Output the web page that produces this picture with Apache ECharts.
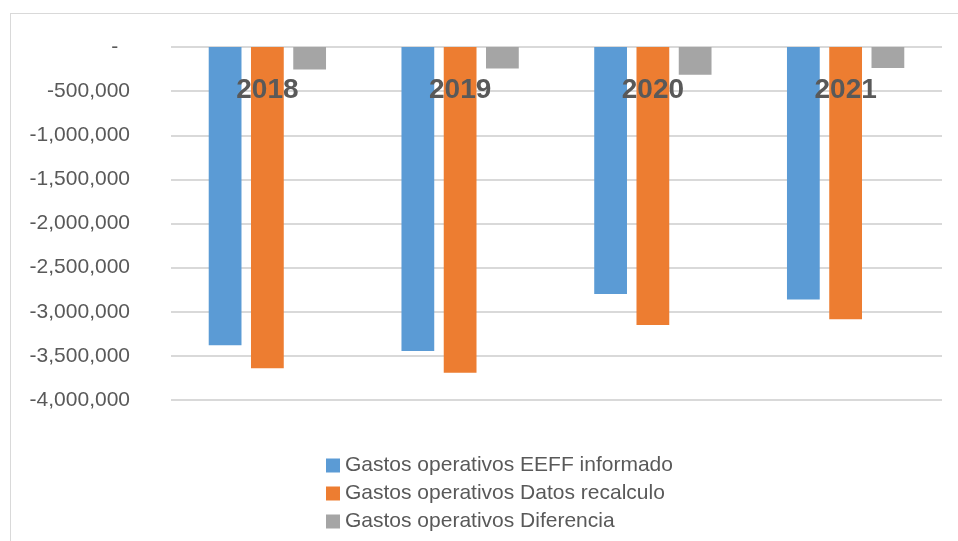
<!DOCTYPE html>
<html>
<head>
<meta charset="utf-8">
<script src="https://cdn.jsdelivr.net/npm/echarts@6/dist/echarts.min.js"></script>
<style>
  html, body { margin: 0; padding: 0; background: #fff; }
  #frame {
    position: absolute; left: 10px; top: 13px; width: 960px; height: 560px;
    border: 1px solid #d9d9d9; box-sizing: border-box;
  }
  #chart { position: absolute; left: 0; top: 0; width: 958px; height: 541px; }
</style>
</head>
<body>
<div id="frame"></div>
<div id="chart"></div>
<script>
const years = ['2018', '2019', '2020', '2021']
const informado = [-3380000, -3445000, -2800000, -2860000]
const recalculo = [-3640000, -3690000, -3150000, -3085000]
const diferencia = [-255000, -245000, -315000, -238000]

const seriesNames = [
  'Gastos operativos EEFF informado',
  'Gastos operativos Datos recalculo',
  'Gastos operativos Diferencia'
]
const colors = ['#5b9bd5', '#ed7d31', '#a5a5a5']

const chart = echarts.init(document.getElementById('chart'))

// accounting style: zero shows as a dash
const fmt = v => v === 0 ? '-  ' : (v < 0 ? '-' : '') + Math.abs(v).toString().replace(/\B(?=(\d{3})+(?!\d))/g, ',')

const option = {
  animation: false,
  color: colors,
  grid: {
    left: 171,
    right: 16,
    top: 47,
    bottom: 141
  },
  legend: {
    orient: 'vertical',
    left: 321,
    top: 450,
    itemWidth: 14,
    itemHeight: 14,
    itemGap: 7,
    icon: 'rect',
    textStyle: {
      color: '#595959',
      fontSize: 21,
      fontFamily: 'Liberation Sans'
    },
    data: seriesNames
  },
  xAxis: {
    type: 'category',
    position: 'top',
    data: years,
    z: 10,
    axisLine: { show: false },
    axisTick: { show: false },
    axisLabel: {
      inside: true,
      margin: 29,
      color: '#595959',
      fontSize: 28,
      fontWeight: 'bold',
      fontFamily: 'Liberation Sans'
    }
  },
  yAxis: {
    type: 'value',
    min: -4000000,
    max: 0,
    interval: 500000,
    axisLine: { show: false },
    axisTick: { show: false },
    axisLabel: {
      margin: 41,
      color: '#595959',
      fontSize: 21,
      fontFamily: 'Liberation Sans',
      formatter: fmt
    },
    splitLine: {
      lineStyle: { color: '#d9d9d9', width: 2 }
    }
  },
  series: [
    { name: seriesNames[0], type: 'bar', data: informado, barWidth: '17%', barGap: '29%' },
    { name: seriesNames[1], type: 'bar', data: recalculo, barWidth: '17%', barGap: '29%' },
    { name: seriesNames[2], type: 'bar', data: diferencia, barWidth: '17%', barGap: '29%' }
  ]
}

chart.setOption(option)
window.addEventListener('resize', () => chart.resize())
</script>
</body>
</html>
